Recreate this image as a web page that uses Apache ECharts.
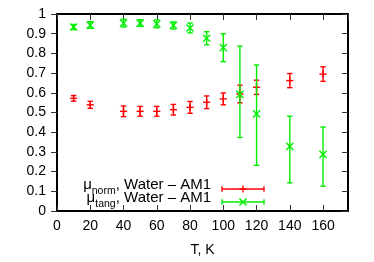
<!DOCTYPE html>
<html>
<head>
<meta charset="utf-8">
<script src="https://cdn.jsdelivr.net/npm/echarts@6/dist/echarts.min.js"></script>
<style>html,body{margin:0;padding:0;background:#fff}#c{width:374px;height:262px}</style>
</head>
<body>
<div id="c"></div>
<script>
// Temperatures (K)
const temps = [10, 20, 40, 50, 60, 70, 80, 90, 100, 110, 120, 140, 160];
// mu_norm, Water - AM1 (value, symmetric error)
const normVals = [0.572, 0.539, 0.506, 0.506, 0.506, 0.514, 0.526, 0.552, 0.569, 0.594, 0.628, 0.662, 0.695];
const normErr  = [0.014, 0.018, 0.027, 0.025, 0.025, 0.027, 0.030, 0.032, 0.030, 0.045, 0.036, 0.036, 0.037];
// mu_tang, Water - AM1 (value, low, high)
const tangVals = [0.934, 0.944, 0.954, 0.954, 0.950, 0.942, 0.929, 0.877, 0.829, 0.592, 0.493, 0.328, 0.287];
const tangLow  = [0.921, 0.927, 0.934, 0.937, 0.930, 0.924, 0.904, 0.844, 0.758, 0.373, 0.232, 0.143, 0.126];
const tangHigh = [0.947, 0.961, 0.974, 0.971, 0.970, 0.960, 0.954, 0.910, 0.900, 0.837, 0.741, 0.481, 0.426];
const xTicks = [0, 20, 40, 60, 80, 100, 120, 140, 160];
const legendSubs = ['norm', 'tang'];
const legendRest = ', Water \u2013 AM1';
const RED = '#ff0000', GREEN = '#00ee00';

const normData = temps.map((t, i) => [t, normVals[i], normVals[i] - normErr[i], normVals[i] + normErr[i]]);
const tangData = temps.map((t, i) => [t, tangVals[i], tangLow[i], tangHigh[i]]);

function makeRender(color, marker) {
  return function (params, api) {
    const c = api.coord([api.value(0), api.value(1)]);
    const lo = api.coord([api.value(0), api.value(2)]);
    const hi = api.coord([api.value(0), api.value(3)]);
    const cap = 2.7, m = 3.6;
    const st = { stroke: color, lineWidth: 1.4 };
    const ch = [
      { type: 'line', shape: { x1: c[0], y1: lo[1], x2: c[0], y2: hi[1] }, style: st },
      { type: 'line', shape: { x1: c[0] - cap, y1: lo[1], x2: c[0] + cap, y2: lo[1] }, style: st },
      { type: 'line', shape: { x1: c[0] - cap, y1: hi[1], x2: c[0] + cap, y2: hi[1] }, style: st }
    ];
    if (marker === 'plus') {
      ch.push({ type: 'line', shape: { x1: c[0] - m, y1: c[1], x2: c[0] + m, y2: c[1] }, style: st });
      ch.push({ type: 'line', shape: { x1: c[0], y1: c[1] - m, x2: c[0], y2: c[1] + m }, style: st });
    } else {
      ch.push({ type: 'line', shape: { x1: c[0] - m, y1: c[1] - m, x2: c[0] + m, y2: c[1] + m }, style: st });
      ch.push({ type: 'line', shape: { x1: c[0] - m, y1: c[1] + m, x2: c[0] + m, y2: c[1] - m }, style: st });
    }
    return { type: 'group', children: ch };
  };
}

const FONT = '"Liberation Sans", Arial, sans-serif';
const axisLine = { show: true, onZero: false, lineStyle: { color: '#000', width: 2 } };
const tickStyle = { color: '#333', width: 1 };

const mctx = document.createElement('canvas').getContext('2d');
function tw(text, size) { mctx.font = size + 'px ' + FONT; return mctx.measureText(text).width; }

function legendItem(base, idx, color, marker) {
  const x1 = 222, x2 = 264, xm = 243, cap = 2.7, m = 3.6;
  const y = base - 1;
  const st = { stroke: color, lineWidth: 1.4 };
  const ch = [
    { type: 'line', shape: { x1: x1, y1: y, x2: x2, y2: y }, style: st },
    { type: 'line', shape: { x1: x1, y1: y - cap, x2: x1, y2: y + cap }, style: st },
    { type: 'line', shape: { x1: x2, y1: y - cap, x2: x2, y2: y + cap }, style: st }
  ];
  if (marker === 'plus') {
    ch.push({ type: 'line', shape: { x1: xm - m, y1: y, x2: xm + m, y2: y }, style: st });
    ch.push({ type: 'line', shape: { x1: xm, y1: y - m, x2: xm, y2: y + m }, style: st });
  } else {
    ch.push({ type: 'line', shape: { x1: xm - m, y1: y - m, x2: xm + m, y2: y + m }, style: st });
    ch.push({ type: 'line', shape: { x1: xm - m, y1: y + m, x2: xm + m, y2: y - m }, style: st });
  }
  const right = 211;
  const wRest = tw(legendRest, 15);
  const wSub = tw(legendSubs[idx], 10.5);
  const ts = (text, size, x, yy) => ({
    type: 'text', x: x, y: yy,
    style: { text: text, align: 'right', verticalAlign: 'middle', fill: '#000', font: size + 'px ' + FONT }
  });
  ch.push(ts(legendRest, 15, right, base - 5));
  ch.push(ts(legendSubs[idx], 10.5, right - wRest, base + 1));
  ch.push(ts('\u03bc', 15, right - wRest - wSub, base - 5));
  return ch;
}

const chart = echarts.init(document.getElementById('c'), null, { renderer: 'canvas' });
chart.setOption({
  animation: false,
  backgroundColor: '#fff',
  grid: { left: 57, right: 26, top: 14, bottom: 47 },
  xAxis: [{
    type: 'value', min: 0, max: 175, interval: 20, position: 'bottom',
    name: 'T, K', nameLocation: 'middle', nameGap: 32,
    nameTextStyle: { color: '#000', fontSize: 14, fontFamily: FONT },
    axisLine: axisLine,
    axisTick: { show: true, inside: true, length: 6, lineStyle: tickStyle },
    axisLabel: { color: '#000', fontSize: 14, fontFamily: FONT, margin: 8, showMaxLabel: false,
      formatter: v => xTicks.indexOf(v) >= 0 ? String(v) : '' },
    splitLine: { show: false }
  }, {
    type: 'value', min: 0, max: 175, interval: 20, position: 'top',
    axisLine: axisLine,
    axisTick: { show: true, inside: true, length: 6, lineStyle: tickStyle },
    axisLabel: { show: false }, splitLine: { show: false }
  }],
  yAxis: [{
    type: 'value', min: 0, max: 1, interval: 0.1, position: 'left',
    axisLine: axisLine,
    axisTick: { show: true, inside: false, length: 6, lineStyle: tickStyle },
    axisLabel: { color: '#000', fontSize: 14, fontFamily: FONT, margin: 11 },
    splitLine: { show: false }
  }, {
    type: 'value', min: 0, max: 1, interval: 0.1, position: 'right',
    axisLine: axisLine,
    axisTick: { show: true, inside: true, length: 6, lineStyle: tickStyle },
    axisLabel: { show: false }, splitLine: { show: false }
  }],
  series: [{
    type: 'custom', name: 'norm', xAxisIndex: 0, yAxisIndex: 0,
    data: normData, renderItem: makeRender(RED, 'plus'), clip: false
  }, {
    type: 'custom', name: 'tang', xAxisIndex: 0, yAxisIndex: 0,
    data: tangData, renderItem: makeRender(GREEN, 'cross'), clip: false
  }],
  graphic: legendItem(190, 0, RED, 'plus').concat(legendItem(203, 1, GREEN, 'cross'))
});
</script>
</body>
</html>
